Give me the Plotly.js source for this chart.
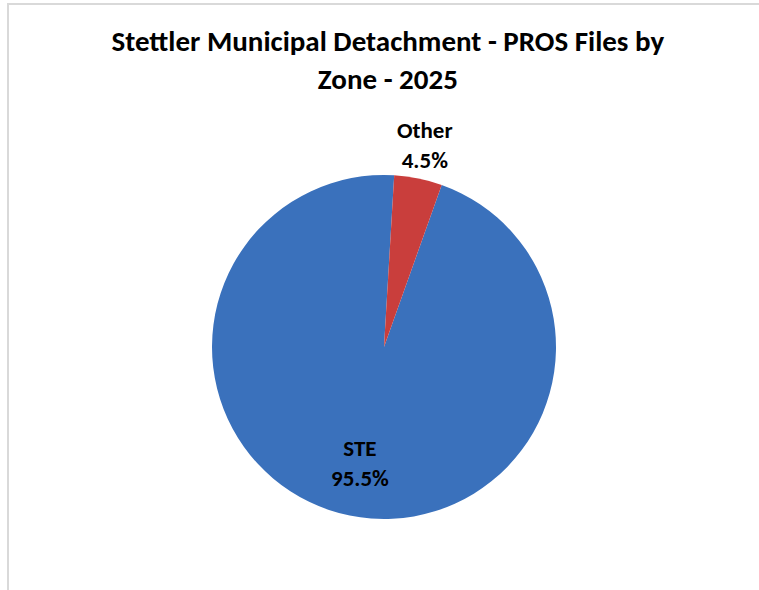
<!DOCTYPE html>
<html>
<head>
<meta charset="utf-8">
<script src="https://cdn.plot.ly/plotly-3.0.1.min.js"></script>
<style>
  html, body { margin: 0; padding: 0; background: #ffffff; }
  #wrap { position: relative; width: 759px; height: 590px; overflow: hidden; }
  #chart { position: absolute; left: 0; top: 0; width: 759px; height: 590px; }
  #frame { position: absolute; left: 7px; top: 3px; width: 760px; height: 600px;
           border-top: 2px solid #d9d9d9; border-left: 2px solid #d9d9d9; pointer-events: none; }
</style>
</head>
<body>
<div id="wrap">
  <div id="chart"></div>
  <div id="frame"></div>
</div>
<script>
// ---- data ----
const zones = ["STE", "Other"];
const shares = [95.5, 4.5];
const chartTitle = "Stettler Municipal Detachment - PROS Files by<br>Zone - 2025";

// ---- styles ----
const sliceColors = ["#3a71bc", "#c93e3c"];
const labelRadius = [0.69, 1.2];      // label distance from centre, as a fraction of the radius
const FONT = "Carlito, Lato, 'Liberation Sans', sans-serif";
const W = 759, H = 590;
const pieCx = 384, pieCy = 347, pieR = 172;   // pixels (screen)
const startAngle = 19.6;                        // degrees clockwise from 12 o'clock

const domain = {
  x: [(pieCx - pieR) / W, (pieCx + pieR) / W],
  y: [(H - pieCy - pieR) / H, (H - pieCy + pieR) / H]
};

const data = [{
  type: "pie",
  labels: zones,
  values: shares,
  sort: false,
  direction: "clockwise",
  rotation: startAngle,
  marker: { colors: sliceColors, line: { width: 0 } },
  textinfo: "none",
  hoverinfo: "label+percent",
  showlegend: false,
  automargin: false,
  domain: domain
}];

// slice labels placed on each slice's bisector, computed from the data
const total = shares.reduce((a, b) => a + b, 0);
let cum = 0;
const annotations = zones.map((z, i) => {
  const frac = shares[i] / total;
  const mid = (startAngle + (cum + frac / 2) * 360) * Math.PI / 180;
  cum += frac;
  const r = pieR * labelRadius[i];
  const px = pieCx + r * Math.sin(mid);
  const py = pieCy - r * Math.cos(mid);
  return {
    xref: "paper", yref: "paper",
    x: px / W, y: (H - py) / H,
    xanchor: "center", yanchor: "middle",
    showarrow: false,
    text: "<b>" + z + "</b><br><b>" + (frac * 100).toFixed(1) + "%</b>",
    font: { family: FONT, size: 23, color: "#000000" }
  };
});

const layout = {
  width: W,
  height: H,
  margin: { l: 0, r: 0, t: 0, b: 0 },
  paper_bgcolor: "#ffffff",
  plot_bgcolor: "#ffffff",
  showlegend: false,
  annotations: annotations,
  title: {
    text: "<b>" + chartTitle + "</b>",
    font: { family: FONT, size: 29, color: "#000000" },
    x: 0.511,
    xanchor: "center",
    y: 0.913,
    yanchor: "top"
  }
};

Plotly.newPlot("chart", data, layout, { displayModeBar: false, staticPlot: true });
</script>
</body>
</html>
